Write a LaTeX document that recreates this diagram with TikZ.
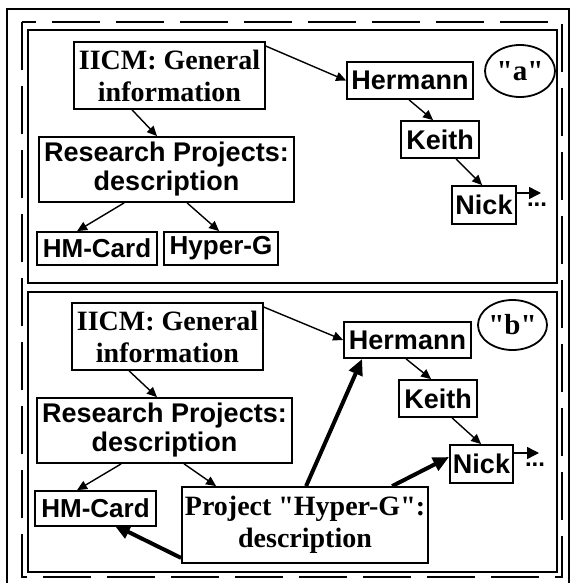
\documentclass[tikz,border=0pt]{standalone}
\usepackage{fontspec}
\setmainfont{Liberation Serif}
\setsansfont{Liberation Sans}
\usetikzlibrary{arrows.meta,shapes.geometric}
\newcommand{\sq}{\XeTeXglyph\XeTeXcharglyph"22\relax}
\tikzset{
  box/.style={draw, line width=1.8pt, inner sep=0pt, align=center},
  serifbox/.style={box, font=\fontsize{28}{32}\selectfont\rmfamily\bfseries},
  sansbox/.style={box, font=\fontsize{27}{29}\selectfont\sffamily\bfseries},
  smallsans/.style={font=\fontsize{26}{29}\selectfont\sffamily\bfseries},
  lbl/.style={draw, ellipse, line width=1.8pt, inner sep=0pt, font=\fontsize{29}{30}\selectfont\rmfamily\bfseries},
  link/.style={line width=1.4pt, -{Triangle[length=10pt,width=9pt]}},
  thick link/.style={line width=4pt, -{Triangle[length=16pt,width=14pt]}},
  panel/.style={line width=2.5pt},
}
\begin{document}
\begin{tikzpicture}[x=1pt,y=-1pt]
\useasboundingbox (0,0) rectangle (571,583);
% frames
\draw[line width=2pt] (7,583) -- (7,9) -- (569,9) -- (569,583);
\draw[line width=2.5pt, dash pattern=on 48pt off 16pt] (22,22) rectangle (562,577);
\draw[panel] (28,30) rectangle (557,283);
\draw[panel] (28,292) rectangle (557,572);

% ---------- panel a ----------
\node[serifbox, minimum width=191pt, minimum height=67pt] (iicmA) at (169.5,75.5) {IICM: General\\information};
\node[sansbox, minimum width=255pt, minimum height=65pt] (resA) at (166.5,169.5) {Research Projects:\\description};
\node[sansbox, smallsans, minimum width=120pt, minimum height=33pt] (hmA) at (97,248.5) {HM-Card};
\node[sansbox, smallsans, minimum width=114pt, minimum height=33pt] (hgA) at (221,248.5) {Hyper-G};
\node[sansbox, minimum width=126pt, minimum height=37pt] (herA) at (410,80.5) {Hermann};
\node[sansbox, minimum width=78pt, minimum height=37pt] (keiA) at (440,139.5) {Keith};
\node[sansbox, minimum width=64pt, minimum height=38pt] (nickA) at (484,205) {Nick};
\node[lbl, minimum width=70pt, minimum height=52pt] (ellA) at (520,71) {\sq a\sq};
\coordinate (endA) at (541,193);
\node[font=\fontsize{24}{26}\selectfont\sffamily\bfseries] (dotsA) at (537,205) {...};

\draw[link] ([yshift=-5pt]iicmA.north east) -- (herA.west);
\draw[link] ([xshift=59pt]iicmA.south west) -- ([xshift=-9.5pt]resA.north);
\draw[link] ([xshift=86pt]resA.south west) -- ([xshift=41pt]hmA.north west);
\draw[link] ([xshift=149pt]resA.south west) -- ([xshift=56pt]hgA.north west);
\draw[link] ([xshift=63pt]herA.south west) -- ([xshift=33pt]keiA.north west);
\draw[link] ([xshift=56pt]keiA.south west) -- ([xshift=31pt]nickA.north west);
\draw[link, -{Triangle[length=12pt,width=12pt]}] (nickA.east |- endA) -- (endA);

% ---------- panel b ----------
\node[serifbox, minimum width=191pt, minimum height=67pt] (iicmB) at (167.5,336.5) {IICM: General\\information};
\node[sansbox, minimum width=255pt, minimum height=65pt] (resB) at (164.5,430.5) {Research Projects:\\description};
\node[sansbox, smallsans, minimum width=121pt, minimum height=35pt] (hmB) at (95.5,508.5) {HM-Card};
\node[serifbox, minimum width=246pt, minimum height=76pt] (projB) at (305,525) {Project \sq Hyper-G\sq:\\description};
\node[sansbox, minimum width=127pt, minimum height=36pt] (herB) at (407.5,340) {Hermann};
\node[sansbox, minimum width=78pt, minimum height=37pt] (keiB) at (438,398.5) {Keith};
\node[sansbox, minimum width=63pt, minimum height=38pt] (nickB) at (481.5,464) {Nick};
\node[lbl, minimum width=69pt, minimum height=50pt] (ellB) at (512.5,325) {\sq b\sq};
\coordinate (endB) at (539,453);
\node[font=\fontsize{24}{26}\selectfont\sffamily\bfseries] (dotsB) at (535,465) {...};

\draw[link] ([yshift=-5pt]iicmB.north east) -- (herB.west);
\draw[link] ([xshift=58pt]iicmB.south west) -- ([xshift=-7.5pt]resB.north);
\draw[link] ([xshift=85pt]resB.south west) -- ([xshift=43pt]hmB.north west);
\draw[link] ([xshift=148pt]resB.south west) -- ([xshift=35pt]projB.north west);
\draw[link] ([xshift=63pt]herB.south west) -- ([xshift=33pt]keiB.north west);
\draw[link] ([xshift=54pt]keiB.south west) -- ([xshift=32pt]nickB.north west);
\draw[link, -{Triangle[length=12pt,width=12pt]}] (nickB.east |- endB) -- (endB);

\draw[thick link] ([yshift=6pt]projB.south west) -- ([xshift=80pt,yshift=2pt]hmB.south west);
\draw[thick link] ([xshift=125pt]projB.north west) -- ([xshift=19pt]herB.south west);
\draw[thick link] ([xshift=211pt]projB.north west) -- ([yshift=7pt]nickB.west);
\end{tikzpicture}
\end{document}
